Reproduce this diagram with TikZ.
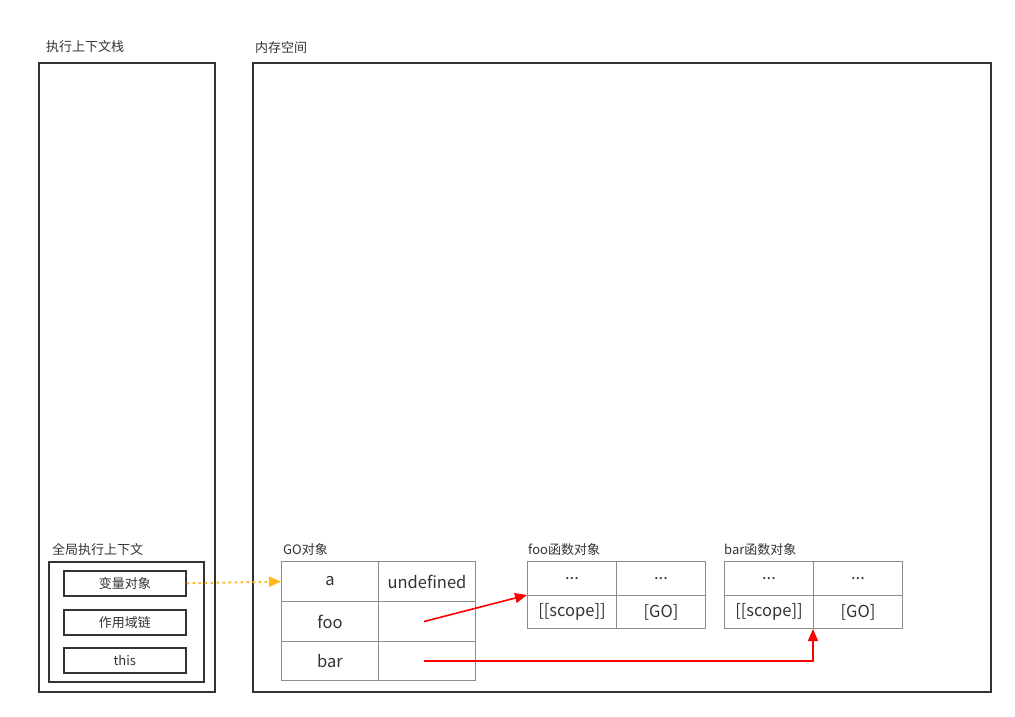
\documentclass[tikz,border=0pt]{standalone}
\usepackage{fontspec}
\setmainfont{Noto Sans CJK SC}
\usetikzlibrary{arrows.meta,positioning}
\definecolor{boxc}{HTML}{333333}
\definecolor{cellc}{HTML}{8C8C8C}
\definecolor{txtc}{HTML}{333333}
\definecolor{amber}{HTML}{FFB71B}
\definecolor{redc}{HTML}{FF0000}
\tikzset{
  outerbox/.style={draw=boxc,line width=1.6pt,anchor=north west,inner sep=0pt},
  lbl/.style={anchor=base west,inner sep=0pt,text=txtc,font=\fontsize{13}{15}\selectfont},
  slot/.style={draw=boxc,line width=1.6pt,anchor=north west,inner sep=0pt,minimum width=122pt,minimum height=25pt,text=txtc,font=\fontsize{13}{15}\selectfont},
  cell/.style={draw=cellc,line width=1pt,anchor=north west,inner sep=0pt,text=txtc,font=\fontsize{16.5}{18}\selectfont},
  redarrow/.style={draw=redc,line width=1.6pt,-{Triangle[length=12pt,width=10pt]}},
}
\begin{document}
\begin{tikzpicture}[x=1pt,y=-1pt]
\useasboundingbox (0,0) rectangle (1015,716);
% outer containers
\node[outerbox,minimum width=176pt,minimum height=629pt] (stack) at (38,62) {};
\node[lbl] (stacklbl) at (46,51) {执行上下文栈};
\node[outerbox,minimum width=738pt,minimum height=629pt] (mem) at (252,62) {};
\node[lbl] (memlbl) at (255,52) {内存空间};
% global context
\node[lbl] (gclbl) at (52,554) {全局执行上下文};
\node[outerbox,minimum width=155pt,minimum height=120pt] (gc) at (48,561) {};
\node[slot] (vo) at (63,570) {变量对象};
\node[slot] (sc) at (63,609) {作用域链};
\node[slot] (th) at (63,647) {this};
% GO table
\node[lbl] (golbl) at (283,554) {GO对象};
\node[cell,minimum width=97pt,minimum height=40pt] (goa) at (281,561) {a};
\node[cell,minimum width=97pt,minimum height=40pt] (goav) at (378,561) {undefined};
\node[cell,minimum width=97pt,minimum height=40pt] (gofoo) at (281,601) {foo};
\node[cell,minimum width=97pt,minimum height=40pt] (gofoov) at (378,601) {};
\node[cell,minimum width=97pt,minimum height=39pt] (gobar) at (281,641) {bar};
\node[cell,minimum width=97pt,minimum height=39pt] (gobarv) at (378,641) {};
% foo function object
\node[lbl] (foolbl) at (528,554) {foo函数对象};
\node[cell,minimum width=89pt,minimum height=34pt] (foo1) at (527,561) {...};
\node[cell,minimum width=89pt,minimum height=34pt] (foo2) at (616,561) {...};
\node[cell,minimum width=89pt,minimum height=33pt] (fooscope) at (527,595) {[[scope]]};
\node[cell,minimum width=89pt,minimum height=33pt] (foogo) at (616,595) {[GO]};
% bar function object
\node[lbl] (barlbl) at (724,554) {bar函数对象};
\node[cell,minimum width=89pt,minimum height=34pt] (bar1) at (724,561) {...};
\node[cell,minimum width=89pt,minimum height=34pt] (bar2) at (813,561) {...};
\node[cell,minimum width=89pt,minimum height=33pt] (barscope) at (724,595) {[[scope]]};
\node[cell,minimum width=89pt,minimum height=33pt] (bargo) at (813,595) {[GO]};
% connectors
\draw[draw=amber,line width=2pt,dash pattern=on 2.5pt off 3.5pt,-{Triangle[length=12pt,width=10pt]}] (vo.east) -- (goa.west);
\coordinate (foostart) at ([xshift=-3pt]gofoov.center);
\coordinate (barstart) at ([xshift=-3pt]gobarv.center);
\draw[redarrow] (foostart) -- (fooscope.north west);
\draw[redarrow] (barstart) -| (bargo.south west);
\end{tikzpicture}
\end{document}
